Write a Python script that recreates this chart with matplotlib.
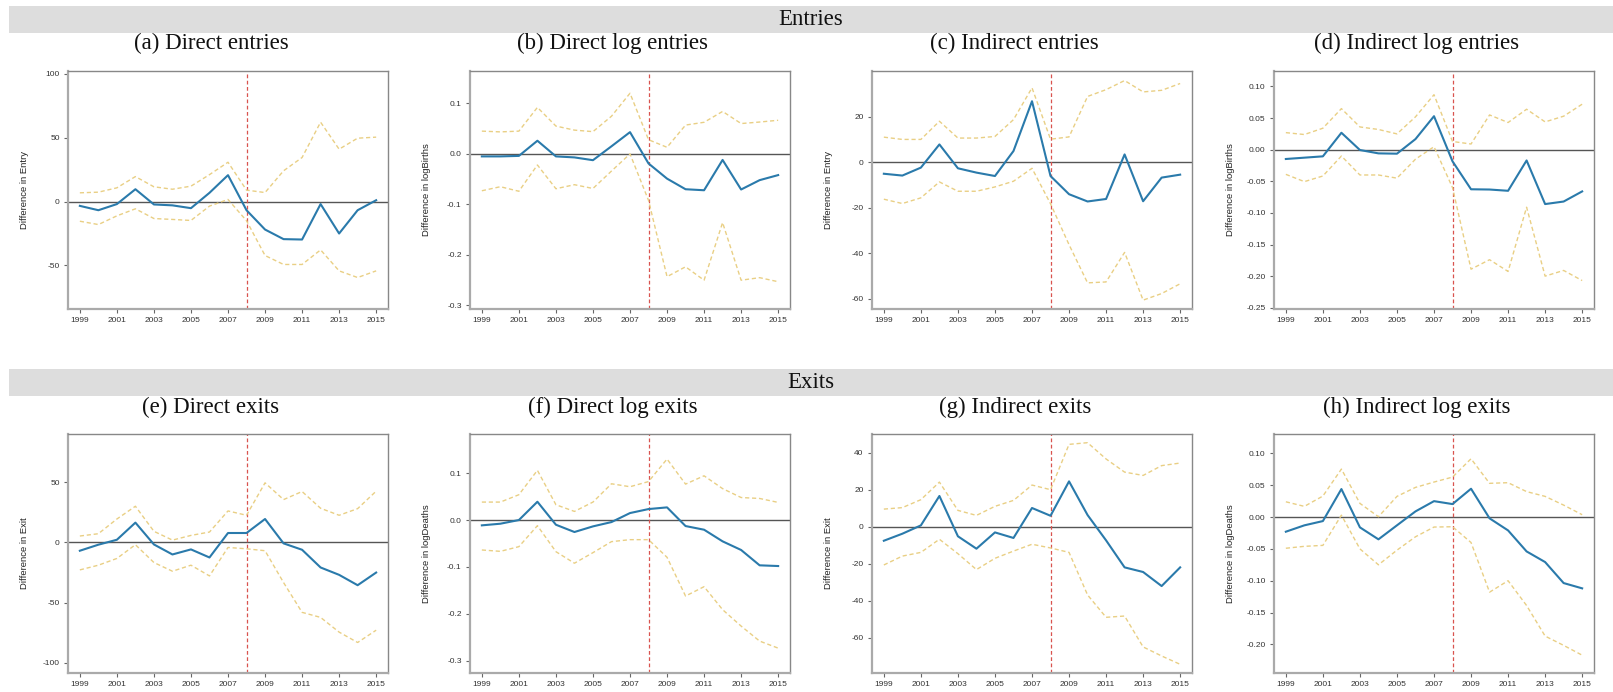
import matplotlib
matplotlib.use("Agg")
import matplotlib.pyplot as plt
import matplotlib.patches as mpatches
import numpy as np

years = list(range(1999, 2016))

# (a) Direct entries
a_est = [-3.4, -6.8, -2.0, 9.6, -2.3, -3.0, -5.2, 6.8, 20.6, -6.8, -21.9, -29.4, -29.7, -2.0, -25.0, -6.8, 1.0]
a_hi = [6.8, 7.3, 10.7, 19.5, 11.5, 9.6, 12.0, 21.0, 30.7, 8.9, 7.0, 24.0, 34.4, 62.0, 40.9, 49.5, 50.3]
a_lo = [-15.4, -18.0, -11.2, -5.7, -13.3, -14.0, -14.8, -3.6, 1.6, -15.0, -42.2, -49.2, -49.2, -37.8, -54.2, -59.4, -54.2]

# (b) Direct log entries
b_est = [-0.005, -0.005, -0.004, 0.026, -0.005, -0.007, -0.0125, 0.015, 0.043, -0.019, -0.049, -0.070, -0.072, -0.012, -0.0705, -0.052, -0.042]
b_hi = [0.045, 0.0435, 0.045, 0.092, 0.055, 0.047, 0.044, 0.0745, 0.120, 0.028, 0.013, 0.057, 0.0625, 0.084, 0.060, 0.063, 0.0665]
b_lo = [-0.073, -0.065, -0.074, -0.022, -0.069, -0.061, -0.0685, -0.034, 0.0, -0.092, -0.243, -0.2235, -0.250, -0.136, -0.250, -0.245, -0.253]

# (c) Indirect entries
c_est = [-5.0, -5.8, -2.3, 7.9, -2.6, -4.5, -6.0, 5.0, 26.9, -6.0, -14.0, -17.2, -16.1, 3.5, -17.1, -6.7, -5.4]
c_hi = [11.1, 10.1, 10.1, 18.1, 10.7, 10.7, 11.4, 18.8, 32.8, 10.2, 11.2, 29.0, 32.0, 36.0, 31.0, 31.7, 34.7]
c_lo = [-16.2, -18.1, -15.6, -8.6, -12.7, -12.7, -10.8, -8.3, -2.6, -18.2, -36.2, -53.0, -52.6, -39.6, -60.6, -57.7, -53.4]

# (d) Indirect log entries
d_est = [-0.0147, -0.0126, -0.0105, 0.0268, -0.0005, -0.0058, -0.0063, 0.0168, 0.053, -0.0184, -0.0626, -0.063, -0.065, -0.017, -0.086, -0.082, -0.066]
d_hi = [0.027, 0.024, 0.034, 0.065, 0.036, 0.032, 0.025, 0.052, 0.087, 0.013, 0.009, 0.055, 0.043, 0.064, 0.044, 0.053, 0.072]
d_lo = [-0.039, -0.0505, -0.0416, -0.010, -0.040, -0.040, -0.045, -0.015, 0.0047, -0.060, -0.189, -0.174, -0.1926, -0.091, -0.200, -0.191, -0.207]

# (e) Direct exits
e_est = [-6.9, -1.9, 2.2, 16.4, -1.7, -10.0, -5.8, -12.5, 7.8, 7.8, 19.4, -0.8, -6.1, -20.8, -26.9, -35.5, -25.0]
e_hi = [5.3, 7.2, 19.4, 30.0, 9.2, 1.9, 5.8, 8.6, 26.1, 22.5, 49.4, 35.5, 42.2, 28.3, 22.5, 28.0, 42.5]
e_lo = [-22.8, -18.9, -13.3, -1.9, -16.7, -23.9, -18.9, -27.8, -4.2, -5.3, -6.9, -33.3, -58.0, -62.2, -74.4, -83.0, -72.8]

# (f) Direct log exits
f_est = [-0.0113, -0.0078, 0.0, 0.039, -0.010, -0.0255, -0.0135, -0.0043, 0.0149, 0.0234, 0.027, -0.0128, -0.0206, -0.0454, -0.0638, -0.0965, -0.098]
f_hi = [0.0383, 0.0383, 0.054, 0.106, 0.0326, 0.0184, 0.0383, 0.0773, 0.071, 0.082, 0.130, 0.0766, 0.0943, 0.067, 0.048, 0.046, 0.0376]
f_lo = [-0.0638, -0.0667, -0.0567, -0.012, -0.0674, -0.092, -0.0695, -0.046, -0.0418, -0.0418, -0.0794, -0.162, -0.142, -0.191, -0.226, -0.258, -0.273]

# (g) Indirect exits
g_est = [-7.6, -3.8, 0.7, 16.6, -5.2, -11.9, -3.1, -6.1, 10.1, 5.9, 24.5, 6.3, -7.4, -22.0, -24.5, -32.1, -22.0]
g_hi = [9.5, 10.3, 14.6, 24.1, 8.8, 6.1, 11.0, 14.2, 22.5, 20.0, 44.5, 45.4, 36.6, 29.5, 27.7, 33.0, 34.4]
g_lo = [-20.7, -15.9, -13.9, -6.8, -14.6, -23.2, -17.1, -13.2, -9.5, -11.5, -13.9, -36.9, -49.0, -48.3, -65.0, -69.9, -74.4]

# (h) Indirect log exits
h_est = [-0.023, -0.013, -0.0063, 0.044, -0.0162, -0.035, -0.013, 0.0089, 0.025, 0.0204, 0.0445, -0.002, -0.021, -0.054, -0.0707, -0.1037, -0.112]
h_hi = [0.024, 0.0168, 0.033, 0.0754, 0.0215, 0.0005, 0.0325, 0.0466, 0.055, 0.0628, 0.0916, 0.053, 0.054, 0.040, 0.0325, 0.0188, 0.0037]
h_lo = [-0.049, -0.046, -0.0445, 0.003, -0.050, -0.075, -0.052, -0.031, -0.0157, -0.0152, -0.040, -0.118, -0.100, -0.139, -0.187, -0.2016, -0.217]

titles = ["(a) Direct entries", "(b) Direct log entries", "(c) Indirect entries", "(d) Indirect log entries",
          "(e) Direct exits", "(f) Direct log exits", "(g) Indirect exits", "(h) Indirect log exits"]
ylabels = ["Difference in Entry", "Difference in logBirths", "Difference in Entry", "Difference in logBirths",
           "Difference in Exit", "Difference in logDeaths", "Difference in Exit", "Difference in logDeaths"]
section_titles = ["Entries", "Exits"]
xticks = [1999, 2001, 2003, 2005, 2007, 2009, 2011, 2013, 2015]
event_year = 2008

yticks = [
    [-50, 0, 50, 100],
    [-0.3, -0.2, -0.1, 0.0, 0.1],
    [-60, -40, -20, 0, 20],
    [-0.25, -0.20, -0.15, -0.10, -0.05, 0.00, 0.05, 0.10],
    [-100, -50, 0, 50],
    [-0.3, -0.2, -0.1, 0.0, 0.1],
    [-60, -40, -20, 0, 20, 40],
    [-0.20, -0.15, -0.10, -0.05, 0.00, 0.05, 0.10],
]
ytickfmt = ["{:.0f}", "{:.1f}", "{:.0f}", "{:.2f}", "{:.0f}", "{:.1f}", "{:.0f}", "{:.2f}"]
ylims = [(-84, 102), (-0.307, 0.164), (-64.5, 40.2), (-0.252, 0.1245),
         (-108.3, 89.9), (-0.326, 0.1834), (-79.1, 50.1), (-0.245, 0.1305)]

series = [(a_est, a_hi, a_lo), (b_est, b_hi, b_lo), (c_est, c_hi, c_lo), (d_est, d_hi, d_lo),
          (e_est, e_hi, e_lo), (f_est, f_hi, f_lo), (g_est, g_hi, g_lo), (h_est, h_hi, h_lo)]

W, H = 1613, 692
fig = plt.figure(figsize=(W / 100, H / 100), dpi=100)

def px_axes(l, t, r, b):
    return fig.add_axes([l / W, 1 - b / H, (r - l) / W, (b - t) / H])

col_lr = [(68, 388), (470, 790), (872, 1192), (1274, 1594)]
row_tb = [(71, 309), (434, 673)]
sub_x = [211, 612.7, 1014.7, 1416.7]
sub_y = [43.5, 407.5]
band_tb = [(6, 33), (369, 396)]

serif = ["Liberation Serif", "DejaVu Serif"]
sans = ["Liberation Sans", "DejaVu Sans"]

for r in range(2):
    t, b = band_tb[r]
    fig.patches.append(mpatches.Rectangle((9 / W, 1 - b / H), (W - 9) / W, (b - t) / H,
                                          transform=fig.transFigure, facecolor="#dddddd",
                                          edgecolor="none", zorder=0))
    fig.text(811 / W, 1 - ((t + b) / 2) / H, section_titles[r], ha="center", va="center",
             fontsize=16.5, family=serif, color="#111111")

blue = "#2a7aab"
gold = "#e9cf84"
red = "#d9534f"

for i in range(8):
    r, c = divmod(i, 4)
    l, rr = col_lr[c]
    t, b = row_tb[r]
    ax = px_axes(l, t, rr, b)
    est, hi, lo = series[i]
    ax.axhline(0, color="#555555", lw=1.0, zorder=1)
    ax.axvline(event_year, color=red, lw=0.9, ls=(0, (3, 2)), zorder=2)
    ax.plot(years, hi, color=gold, lw=1.0, ls=(0, (3, 2)), zorder=3)
    ax.plot(years, lo, color=gold, lw=1.0, ls=(0, (3, 2)), zorder=3)
    ax.plot(years, est, color=blue, lw=1.5, zorder=4)
    ax.set_xlim(1998.36, 2015.64)
    ax.set_ylim(*ylims[i])
    ax.set_xticks(xticks)
    ax.set_xticklabels([str(x) for x in xticks])
    ax.set_yticks(yticks[i])
    ax.set_yticklabels([ytickfmt[i].format(v) for v in yticks[i]])
    ax.tick_params(axis="both", length=3, width=0.8, color="#666666", labelsize=6,
                   labelcolor="#333333", pad=3, direction="out")
    for lab in ax.get_xticklabels() + ax.get_yticklabels():
        lab.set_family(sans)
    for s in ax.spines.values():
        s.set_color("#888888")
        s.set_linewidth(1.0)
    ax.spines["left"].set_linewidth(1.6)
    ax.spines["left"].set_color("#aaaaaa")
    ax.spines["bottom"].set_linewidth(1.6)
    ax.spines["bottom"].set_color("#aaaaaa")
    ax.set_ylabel(ylabels[i], fontsize=6.8, family=sans, color="#222222")
    ax.yaxis.set_label_coords(-39 / (rr - l), 0.5)
    fig.text(sub_x[c] / W, 1 - sub_y[r] / H, titles[i], ha="center", va="center",
             fontsize=16.5, family=serif, color="#111111")

fig.savefig("out.png", dpi=100)
